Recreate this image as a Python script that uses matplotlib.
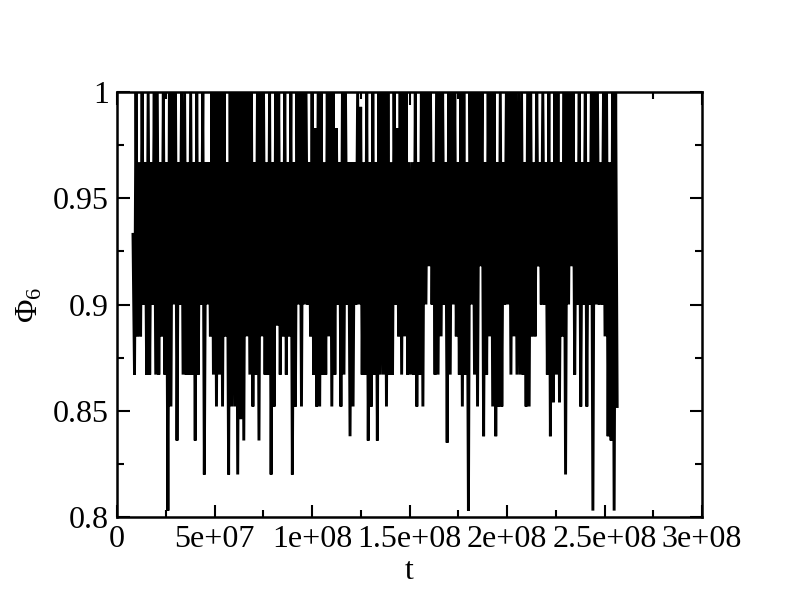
import numpy as np
import matplotlib
matplotlib.use('Agg')
from matplotlib import pyplot as plt
from matplotlib.ticker import MultipleLocator


# =============================================================================
# Data (per time slot, the max and the min of Phi_6)
# =============================================================================
t_start = 8.2e6
t_end = 2.565e8

phi_high = [
	0.933, 1, 0.967, 1, 0.967, 1, 0.967, 1, 1, 0.967,
	1, 0.967, 1, 1, 1, 0.967, 1, 1, 0.967, 1,
	0.967, 1, 0.967, 1, 0.967, 0.967, 1, 1, 1, 1,
	1, 0.967, 1, 1, 1, 1, 1, 1, 1, 1,
	0.967, 1, 1, 1, 0.967, 1, 0.967, 1, 1, 0.967,
	1, 0.967, 1, 0.967, 1, 1, 1, 1, 0.967, 1,
	0.983, 1, 1, 0.967, 1, 1, 1, 0.983, 0.967, 1,
	1, 0.967, 0.967, 0.967, 1, 0.993, 0.967, 1, 0.967, 1,
	0.967, 1, 1, 1, 1, 0.967, 1, 0.983, 1, 1,
	1, 0.967, 0.967, 1, 0.967, 1, 1, 1, 1, 0.967,
	1, 1, 1, 0.967, 1, 1, 1, 0.967, 1, 1,
	0.967, 1, 1, 1, 1, 1, 0.967, 1, 1, 1,
	0.967, 1, 0.967, 1, 1, 1, 1, 1, 1, 0.967,
	1, 1, 0.967, 1, 0.967, 1, 0.967, 1, 0.967, 1,
	1, 0.967, 1, 1, 1, 1, 0.967, 1, 0.967, 1,
	0.967, 1, 1, 1, 0.967, 1, 1, 0.967, 1, 1,
]

phi_low = [
	0.867, 0.885, 0.885, 0.9, 0.867, 0.867, 0.9, 0.867, 0.867, 0.885,
	0.867, 0.803, 0.852, 0.9, 0.836, 0.9, 0.867, 0.867, 0.867, 0.867,
	0.836, 0.867, 0.9, 0.82, 0.9, 0.885, 0.867, 0.852, 0.867, 0.852,
	0.885, 0.82, 0.852, 0.852, 0.82, 0.846, 0.836, 0.885, 0.867, 0.852,
	0.867, 0.836, 0.885, 0.867, 0.867, 0.82, 0.852, 0.89, 0.867, 0.885,
	0.867, 0.885, 0.82, 0.852, 0.9, 0.852, 0.9, 0.9, 0.885, 0.867,
	0.852, 0.852, 0.867, 0.867, 0.885, 0.852, 0.867, 0.9, 0.852, 0.867,
	0.9, 0.838, 0.852, 0.9, 0.9, 0.867, 0.867, 0.836, 0.852, 0.867,
	0.836, 0.867, 0.867, 0.852, 0.867, 0.867, 0.9, 0.885, 0.867, 0.885,
	0.867, 0.867, 0.867, 0.852, 0.867, 0.852, 0.9, 0.918, 0.9, 0.867,
	0.867, 0.885, 0.9, 0.835, 0.867, 0.9, 0.885, 0.867, 0.852, 0.867,
	0.803, 0.9, 0.867, 0.852, 0.918, 0.838, 0.867, 0.885, 0.852, 0.838,
	0.852, 0.852, 0.9, 0.9, 0.867, 0.885, 0.867, 0.867, 0.867, 0.852,
	0.852, 0.885, 0.885, 0.918, 0.9, 0.9, 0.867, 0.838, 0.854, 0.867,
	0.854, 0.885, 0.82, 0.9, 0.918, 0.867, 0.9, 0.852, 0.9, 0.852,
	0.9, 0.803, 0.9, 0.9, 0.9, 0.885, 0.838, 0.836, 0.803, 0.852,
]

xtick_vals = [0, 5e7, 1e8, 1.5e8, 2e8, 2.5e8, 3e8]
xtick_labels = ['0', '5e+07', '1e+08', '1.5e+08', '2e+08', '2.5e+08', '3e+08']
ytick_vals = [0.8, 0.85, 0.9, 0.95, 1.0]
ytick_labels = ['0.8', '0.85', '0.9', '0.95', '1']

# Interleave max/min of each slot into one trace
phi = np.empty(2 * len(phi_high))
phi[0::2] = phi_high
phi[1::2] = phi_low
t = np.linspace(t_start, t_end, len(phi))


# =============================================================================
# Plot parameters
# =============================================================================
matplotlib.rcParams['font.family'] = 'Liberation Serif'
matplotlib.rcParams['mathtext.fontset'] = 'custom'
matplotlib.rcParams['mathtext.rm'] = 'Liberation Serif'
matplotlib.rcParams['mathtext.it'] = 'Liberation Serif:italic'
matplotlib.rcParams['font.size'] = 23


# =============================================================================
# Plot
# =============================================================================
fig = plt.figure(figsize=(7.92, 6.10), dpi=100)
ax = fig.add_axes([117/792, 1-517/610, 585/792, 425/610])

ax.plot(t, phi, color='black', linewidth=2.1, solid_joinstyle='bevel')

ax.set_xlim(0, 3e8)
ax.set_ylim(0.8, 1.0)
ax.set_xticks(xtick_vals)
ax.set_xticklabels(xtick_labels)
ax.set_yticks(ytick_vals)
ax.set_yticklabels(ytick_labels)
ax.xaxis.set_minor_locator(MultipleLocator(2.5e7))
ax.yaxis.set_minor_locator(MultipleLocator(0.025))
ax.tick_params(which='both', direction='in', top=True, right=True, width=1.5)
ax.tick_params(which='major', length=9, pad=6)
ax.tick_params(which='minor', length=5)
for sp in ax.spines.values():
	sp.set_linewidth(1.8)

ax.set_xlabel('t', labelpad=2)
ax.set_ylabel(r'$\mathrm{\Phi}_{\mathit{6}}$', labelpad=6)

plt.savefig('out.png', dpi=100)
